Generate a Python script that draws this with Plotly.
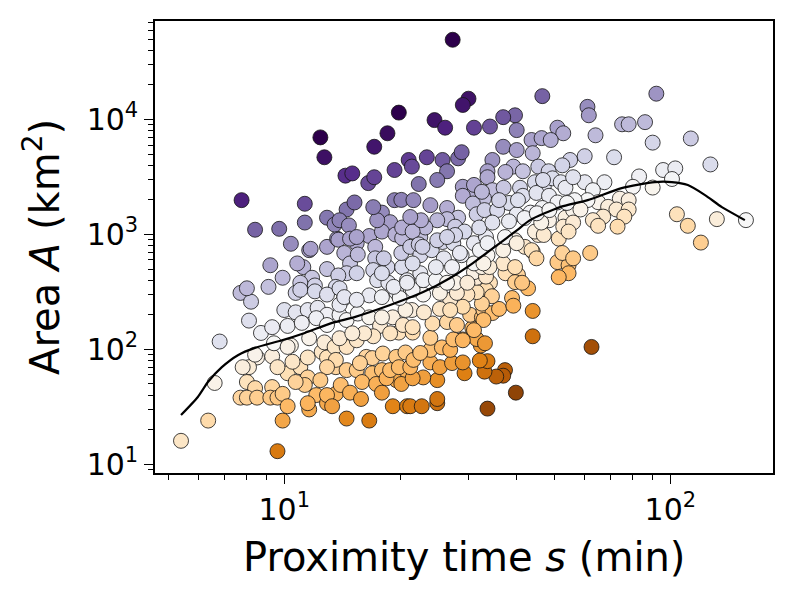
import numpy as np
import plotly.graph_objects as go

# ---------------- data (proximity time s [min], area A [km^2]) ----------------
# low / left sparse region
s_g1 = [5.4, 6.35, 6.6, 6.8, 7.75, 7.7, 8.2, 8.1, 9.6, 8.7,
        9.3, 9.1, 9.2, 9.9, 10.4, 11.6, 12.9, 13.7, 8.4, 9.7,
        11.3, 11.3, 12.9, 13.5, 14.5, 12.4, 12.7, 14.4, 15.0, 15.2]
A_g1 = [16, 24, 51, 117, 1990, 310, 260, 178, 13, 139,
        156, 350, 540, 420, 830, 730, 780, 920, 1100, 1120,
        1850, 1270, 1400, 1220, 1650, 7000, 4700, 3250, 3400, 1900]

# upper-left cluster
s_g2 = [19.8, 18.5, 17.1, 16.5, 17.1, 19.3, 21.0, 13.9, 14.7, 17.9,
        19.3, 20.1, 18.8, 11.7, 13.8, 15.4, 16.6, 17.9, 17.2, 19.4,
        20.2, 20.2, 11.2, 11.8, 12.9, 14.3, 14.8, 14.5, 13.8, 15.5,
        17.2, 17.0, 18.5, 17.4, 18.6, 20.2, 20.8, 11.0, 12.0, 13.6,
        8.0]
A_g2 = [11500, 7600, 5800, 2800, 3150, 3640, 4450, 1330, 1200, 1550,
        1990, 2000, 1280, 750, 900, 840, 970, 1060, 780, 1000,
        930, 1150, 520, 420, 500, 690, 560, 460, 440, 670,
        620, 490, 520, 400, 380, 520, 400, 380, 360, 350,
        340]

# lower-left cluster
s_g3 = [10.8, 10.7, 11.0, 12.0, 12.9, 13.9, 14.3, 10.0, 10.7, 11.5,
        12.2, 12.9, 13.9, 14.5, 10.2, 11.1, 11.6, 10.4, 9.3, 8.5,
        8.1, 8.0, 8.4, 7.7, 8.0, 8.5, 9.3, 9.2, 9.6, 9.9,
        10.2, 9.9, 10.2, 11.0, 11.5, 11.3, 12.1, 11.6, 11.5, 12.9,
        13.6, 14.0, 14.5, 10.5, 11.5, 12.5, 12.9, 13.6, 14.5, 9.4,
        10.2, 12.7, 13.5, 14.5, 7.8, 8.4]
A_g3 = [560, 310, 330, 320, 300, 340, 280, 220, 210, 220,
        230, 200, 200, 180, 160, 170, 125, 108, 87, 85,
        70, 52, 46, 38, 38, 38, 47, 38, 38, 41,
        32, 24, 62, 70, 57, 49, 40, 30, 34, 34,
        41, 49, 25, 78, 85, 95, 85, 70, 66, 113,
        105, 115, 105, 105, 70, 90]

# lower-middle cluster
s_g4 = [12.1, 12.9, 13.9, 15.5, 16.6, 17.7, 19.1, 19.8, 14.3, 16.6,
        17.9, 19.5, 13.9, 15.4, 17.0, 18.8, 13.6, 16.3, 16.9, 18.0,
        19.5, 20.6, 9.6, 12.9, 15.4, 16.9, 17.9, 19.5, 20.8, 10.7,
        12.4, 15.9, 17.3, 18.4, 20.1, 12.9, 13.3, 14.8, 15.8, 17.9,
        19.1, 20.8, 16.6]
A_g4 = [187, 163, 245, 205, 190, 160, 190, 140, 285, 295,
        285, 315, 125, 120, 130, 138, 81, 86, 84, 92,
        86, 94, 70, 70, 66, 62, 66, 54, 64, 52,
        54, 52, 50, 56, 50, 40, 32, 42, 37, 42,
        32, 32, 24]

# central / lower-right cluster
s_g5 = [21.2, 22.7, 24.9, 24.9, 33.6, 39.8, 37.3, 36.9, 35.4, 33.0,
        33.6, 32.1, 29.3, 24.9, 22.9, 21.5, 18.8, 19.8, 21.2, 23.9,
        25.3, 27.2, 29.0, 15.7, 23.9, 25.6, 26.9, 21.6, 22.5, 29.0,
        32.3, 31.5, 27.4, 23.9, 21.5, 16.1, 15.0, 20.3, 21.5, 24.2,
        26.4, 28.0, 30.7, 30.3, 32.5, 32.8, 34.6, 36.0, 38.9, 39.2,
        42.8, 44.0, 44.0, 44.0, 42.0, 40.3, 37.4, 39.6, 36.9, 34.1,
        33.3, 34.5, 32.5, 31.5, 29.8, 29.0, 26.9, 28.0, 25.3, 22.9,
        21.4, 23.0, 25.3, 26.9, 20.6, 17.9, 21.5, 19.9, 15.4, 31.5,
        31.0, 33.3, 32.5, 27.7]
A_g5 = [32, 32, 34, 37, 30.5, 42, 66, 59, 58, 64,
        79, 80, 62, 54, 57, 56, 66, 70, 70, 77,
        70, 76, 77, 76, 99, 104, 99, 81, 93, 122,
        108, 123, 122, 126, 140, 138, 138, 163, 156, 168,
        173, 163, 153, 200, 190, 220, 207, 225, 280, 240,
        340, 216, 130, 710, 780, 445, 460, 385, 560, 380,
        330, 290, 250, 315, 300, 235, 270, 310, 310, 300,
        220, 210, 225, 220, 220, 190, 330, 280, 270, 420,
        470, 430, 520, 380]

# central band around the trend line
s_g6 = [14.8, 22.5, 18.1, 20.1, 21.2, 22.5, 24.1, 25.7, 27.4, 28.8,
        25.9, 31.0, 33.3, 15.4, 17.9, 19.2, 20.8, 22.5, 22.9, 24.7,
        26.4, 29.8, 24.7, 27.2, 31.0, 34.0, 21.5, 33.6, 36.9, 39.6,
        43.7, 45.5]
A_g6 = [920, 950, 620, 690, 780, 660, 730, 860, 840, 660,
        620, 840, 950, 460, 460, 350, 380, 460, 400, 400,
        380, 380, 520, 520, 560, 520, 560, 660, 730, 890,
        730, 990]

# upper-middle cluster
s_g7 = [39.6, 46.6, 24.5, 26.1, 31.0, 34.1, 36.9, 40.0, 43.7, 46.4,
        51.0, 52.8, 49.0, 36.9, 40.0, 44.0, 34.6, 39.2, 37.4, 33.6,
        41.5, 45.5, 48.4, 55.0, 52.5, 23.4, 25.7, 28.2, 26.4, 24.9,
        22.3, 21.6, 23.9, 29.0, 31.0, 33.6, 34.6, 37.0, 40.8, 44.6,
        47.0, 49.5, 52.0, 32.9, 38.2, 41.5, 45.0, 48.5, 53.5, 29.0,
        30.8, 26.4, 28.2, 31.5, 33.0, 35.6, 40.0, 43.4, 46.6, 51.0,
        26.4, 24.9, 23.2, 21.5, 27.7, 29.3, 32.0, 34.6, 38.2, 24.9,
        28.5, 32.1, 33.6, 37.3, 22.3, 32.8, 39.6, 40.0, 44.6, 47.0,
        51.4, 45.0, 51.0, 54.5, 54.5, 51.4, 41.3, 48.5, 46.3, 53.5,
        52.8, 56.0]
A_g7 = [10900, 16000, 9900, 8500, 8500, 8700, 10500, 8100, 6640, 6900,
        8500, 7600, 6640, 5800, 5430, 5100, 4450, 3900, 3500, 3550,
        3550, 3900, 3550, 4450, 4000, 4700, 4450, 4600, 3550, 2980,
        2750, 1990, 1800, 2600, 2300, 3150, 2430, 2550, 2550, 2850,
        2600, 3080, 2850, 2060, 1880, 2170, 2300, 2170, 2550, 2170,
        1860, 1700, 1400, 1500, 1630, 1630, 1500, 1550, 1700, 1900,
        1360, 1330, 1150, 1060, 1170, 1060, 1150, 1270, 1300, 890,
        690, 730, 840, 950, 820, 560, 520, 840, 1060, 990,
        920, 620, 575, 540, 460, 425, 380, 1330, 1270, 1400,
        1170, 1630]

# right-hand cluster
s_g8 = [92, 61, 61.5, 64, 75, 78, 86, 90, 113, 71.5,
        60, 127, 95.8, 103, 101, 83, 67.5, 60, 56, 63,
        80, 90, 74, 78, 65, 61, 56.5, 54, 58.5, 69,
        72.5, 78, 67, 76, 63, 65, 73, 56, 54.5, 52.5,
        56, 62, 104, 111, 120, 132, 157]
A_g8 = [16800, 12900, 10900, 7300, 9100, 9100, 9500, 6300, 6850, 4700,
        4800, 4070, 3640, 3760, 3040, 3200, 2850, 2850, 3150, 2430,
        2600, 2560, 2050, 1990, 1910, 1990, 1990, 1880, 1650, 1740,
        1650, 1650, 1430, 1430, 1333, 1190, 1170, 1270, 1060, 690,
        620, 690, 1500, 1190, 850, 1360, 1333]

# scattered extras
s_g9 = [62.5, 32.8, 33.1, 29.0, 31.0, 27.3, 30.0, 29.0, 28.8, 21.4,
        31.0, 32.5, 27.7, 22.6, 21.2, 17.4, 17.0, 36.0, 40.3, 46.8,
        41.9, 45.1, 48.6, 26.4, 15.4, 22.8]
A_g9 = [105, 180, 113, 120, 147, 49500, 15200, 13400, 5200, 3900,
        2700, 2350, 990, 1330, 1420, 1330, 1730, 1990, 1990, 2980,
        1390, 1530, 1630, 950, 950, 780]

# smoothed trend curve
trend_s = [5.40, 5.97, 6.34, 6.89, 7.58, 8.39, 9.86, 11.3, 13.3, 15.2,
           18.8, 22.9, 26.9, 30.8, 35.6, 40.1, 43.3, 51.8, 61.1, 74.8,
           91.1, 100.9, 111, 123, 136, 156]
trend_A = [26.8, 38.5, 52, 70, 89, 103, 120, 139, 170, 191,
           243, 315, 418, 564, 809, 1091, 1333, 1731, 1991, 2533,
           2860, 2860, 2693, 2203, 1731, 1333]

x_ticks = [10, 100]
x_ticktext = ["10<sup>1</sup>", "10<sup>2</sup>"]
y_ticks = [10, 100, 1000, 10000]
y_ticktext = ["10<sup>1</sup>", "10<sup>2</sup>", "10<sup>3</sup>", "10<sup>4</sup>"]

# ---------------- build ----------------
s_all = np.array(s_g1 + s_g2 + s_g3 + s_g4 + s_g5 + s_g6 + s_g7 + s_g8 + s_g9, dtype=float)
A_all = np.array(A_g1 + A_g2 + A_g3 + A_g4 + A_g5 + A_g6 + A_g7 + A_g8 + A_g9, dtype=float)

trend_logA = np.interp(np.log10(s_all), np.log10(trend_s), np.log10(trend_A))
resid = np.log10(A_all) - trend_logA

puor = ['rgb(127,59,8)', 'rgb(179,88,6)', 'rgb(224,130,20)', 'rgb(253,184,99)',
        'rgb(254,224,182)', 'rgb(247,247,247)', 'rgb(216,218,235)', 'rgb(178,171,210)',
        'rgb(128,115,172)', 'rgb(84,39,136)', 'rgb(45,0,75)']
neg, pos = 1.5, 1.6
p0 = neg / (neg + pos)
cscale = [[p0 * i / 5, puor[i]] for i in range(6)] + \
         [[p0 + (1 - p0) * (i - 5) / 5, puor[i]] for i in range(6, 11)]

def minor_vals(lo, hi):
    out = []
    for d in range(lo, hi):
        for m in range(2, 10):
            out.append(m * 10 ** d)
    return out

font_family = "DejaVu Sans"

fig = go.Figure()
fig.add_trace(go.Scatter(
    x=s_all, y=A_all, mode="markers", showlegend=False, hoverinfo="skip",
    marker=dict(size=15, color=resid, colorscale=cscale, cmin=-neg, cmax=pos,
                line=dict(color="rgba(20,20,20,1)", width=0.8), opacity=1.0),
))
fig.add_trace(go.Scatter(
    x=trend_s, y=trend_A, mode="lines", showlegend=False, hoverinfo="skip",
    line=dict(color="black", width=2.2, shape="spline", smoothing=0.6),
))

axis_common = dict(
    type="log", showgrid=False, zeroline=False,
    showline=True, linecolor="black", linewidth=1.6, mirror=True,
    ticks="outside", ticklen=9, tickwidth=1.4, tickcolor="black",
    tickfont=dict(family=font_family, size=30, color="black"),
)

fig.update_layout(
    width=793, height=602,
    margin=dict(l=155, r=20, t=21, b=129),
    paper_bgcolor="white", plot_bgcolor="white",
    font=dict(family=font_family, color="black"),
    xaxis=dict(axis_common, range=[0.665, 2.266], tickmode="array",
               tickvals=x_ticks, ticktext=x_ticktext,
               minor=dict(ticks="outside", ticklen=5, tickwidth=1.1, tickcolor="black",
                          tickvals=minor_vals(0, 3), showgrid=False)),
    yaxis=dict(axis_common, range=[0.924, 4.858], tickmode="array",
               tickvals=y_ticks, ticktext=y_ticktext,
               minor=dict(ticks="outside", ticklen=5, tickwidth=1.1, tickcolor="black",
                          tickvals=minor_vals(0, 5), showgrid=False)),
    annotations=[
        dict(text="Proximity time <i>s</i> (min)", xref="paper", yref="paper",
             x=0.5, y=-0.186, xanchor="center", yanchor="middle", showarrow=False,
             font=dict(family=font_family, size=40, color="black")),
        dict(text="Area <i>A</i> (km<sup>2</sup>)", xref="paper", yref="paper",
             x=-0.183, y=0.5, xanchor="center", yanchor="middle", showarrow=False,
             textangle=-90, font=dict(family=font_family, size=40, color="black")),
    ],
)

fig.write_html("out.html", config={"displayModeBar": False},
               post_script="document.body.style.margin='0px';")
